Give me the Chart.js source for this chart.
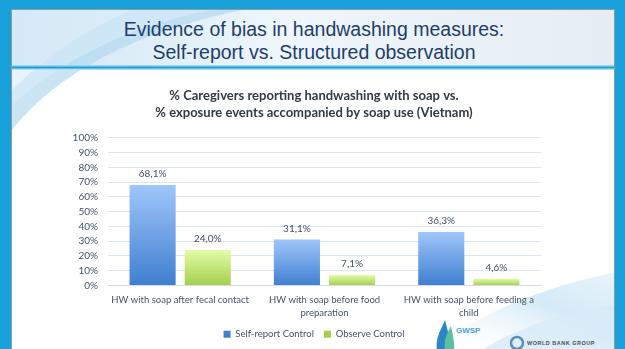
<!DOCTYPE html>
<html>
<head>
<meta charset="utf-8">
<script src="https://cdn.jsdelivr.net/npm/chart.js@4.4.1/dist/chart.umd.min.js"></script>
<style>
  html, body { margin: 0; padding: 0; }
  body { width: 625px; height: 349px; background: #17a0da; position: relative; overflow: hidden; }
  #slide {
    position: absolute; left: 11px; top: 9px; width: 604px; height: 340px;
    background: #fff; border: 1px solid #8c9aa4; border-bottom: none; box-sizing: border-box;
    overflow: hidden;
  }
  #deco { position: absolute; left: 0; top: 0; }
  .heading {
    position: absolute; left: 0; width: 604px; text-align: center;
    font-family: "Liberation Sans", Arial, sans-serif; font-size: 19.5px; color: #1f3d6b;
  }
  #chartBox { position: absolute; left: 0; top: 71px; width: 604px; height: 269px; }
  .logo { position: absolute; font-family: "Liberation Sans", Arial, sans-serif; font-weight: bold; }
</style>
</head>
<body>
<div id="slide">
  <svg id="deco" width="604" height="340">
    <defs>
      <linearGradient id="band" x1="0" y1="0" x2="1" y2="0">
        <stop offset="0" stop-color="#cfe6f5"/>
        <stop offset="0.45" stop-color="#eef6fb"/>
        <stop offset="1" stop-color="#e6eef4"/>
      </linearGradient>
      <linearGradient id="rule" x1="0" y1="0" x2="0" y2="1">
        <stop offset="0" stop-color="#bfe4f6"/>
        <stop offset="0.5" stop-color="#1a9fd8"/>
        <stop offset="1" stop-color="#d3eef9"/>
      </linearGradient>
      <linearGradient id="swoosh" x1="0" y1="1" x2="1" y2="0">
        <stop offset="0" stop-color="#ffffff" stop-opacity="0"/>
        <stop offset="0.6" stop-color="#cfe8f6"/>
        <stop offset="1" stop-color="#e6f3fa"/>
      </linearGradient>
    </defs>
    <!-- header band and swooshes -->
    <rect x="0" y="0" width="604" height="55" fill="url(#band)"/>
    <path d="M0,120 C40,70 110,25 230,0 L120,0 C70,20 25,55 0,80 Z" fill="#b3d9f0" opacity="0.7"/>
    <path d="M0,95 C50,50 120,15 200,0 L0,0 Z" fill="#d9ecf8" opacity="0.6"/>
    <rect x="0" y="55" width="604" height="5" fill="url(#rule)"/>
    <path d="M420,340 C470,300 540,275 604,262 L604,340 Z" fill="url(#swoosh)" opacity="0.9"/>
    <path d="M470,340 C510,315 560,300 604,295 L604,340 Z" fill="#d7ebf7" opacity="0.8"/>
    <!-- logo marks -->
    <path d="M425,340 C423,328 429,320 433,310 C436,322 439,330 437,340 Z" fill="#2a86c6"/>
    <path d="M433,340 C431,330 436,322 439,316 C441,326 443,334 442,340 Z" fill="#5cc0a0"/>
    <circle cx="505" cy="333" r="6" fill="none" stroke="#5b8fb8" stroke-width="2.5"/>
  </svg>
  <div class="heading" style="top: 8px;">Evidence of bias in handwashing measures:</div>
  <div class="heading" style="top: 31px;">Self-report vs. Structured observation</div>
  <div class="logo" style="left: 444px; top: 316px; font-size: 8px; color: #4aa3dc;">GWSP</div>
  <div class="logo" style="left: 515px; top: 330px; font-size: 5.5px; color: #4b4f55; letter-spacing: 0.5px;">WORLD BANK GROUP</div>
  <div id="chartBox"><canvas id="chart"></canvas></div>
</div>

<script>
const categories = [
    ['HW with soap after fecal contact'],
    ['HW with soap before food', 'preparation'],
    ['HW with soap before feeding a', 'child']
];
const seriesNames = ['Self-report Control', 'Observe Control'];
const selfReport = [68.1, 31.1, 36.3];
const observed = [24.0, 7.1, 4.6];
const yTicks = [0, 10, 20, 30, 40, 50, 60, 70, 80, 90, 100];

const textColor = '#44546a';

// each bar gets its own vertical gradient, top to base
function barFill(top, bottom) {
    return (c) => {
        const chart = c.chart;
        const y = chart.scales.y;
        if (c.type !== 'data' || !chart.chartArea || !y) return bottom;
        const g = chart.ctx.createLinearGradient(0, y.getPixelForValue(c.raw), 0, y.getPixelForValue(0));
        g.addColorStop(0, top);
        g.addColorStop(1, bottom);
        return g;
    };
}

function fmt(v) {
    return v.toFixed(1).replace('.', ',') + '%';
}

// value labels above the bars
const valueLabels = {
    id: 'valueLabels',
    afterDatasetsDraw(chart) {
        const ctx = chart.ctx;
        ctx.save();
        ctx.font = '10px Lato';
        ctx.fillStyle = textColor;
        ctx.textAlign = 'center';
        ctx.textBaseline = 'middle';
        chart.data.datasets.forEach((ds, i) => {
            chart.getDatasetMeta(i).data.forEach((bar, j) => {
                ctx.fillText(fmt(ds.data[j]), bar.x, bar.y - 11);
            });
        });
        ctx.restore();
    }
};

const chartCtx = document.getElementById('chart');

new Chart(chartCtx, {
    type: 'bar',
    data: {
        labels: categories,
        datasets: [{
            label: seriesNames[0],
            data: selfReport,
            backgroundColor: barFill('#a0c6fb', '#3f7fcf')
        }, {
            label: seriesNames[1],
            data: observed,
            backgroundColor: barFill('#e4fca8', '#a3cf4a')
        }]
    },
    options: {
        responsive: true,
        maintainAspectRatio: false,
        animation: false,
        categoryPercentage: 0.764,
        barPercentage: 0.836,
        layout: { padding: { left: 0, right: 0, top: 0, bottom: 1 } },
        plugins: {
            title: {
                display: true,
                text: ['% Caregivers reporting handwashing with soap vs.', '% exposure events accompanied by soap use (Vietnam)'],
                font: { family: 'Lato', size: 13, weight: 'bold', lineHeight: 1.3 },
                color: '#333a44',
                padding: { top: 6, bottom: 17 }
            },
            legend: {
                position: 'bottom',
                labels: {
                    font: { family: 'Lato', size: 9.5 },
                    color: textColor,
                    boxWidth: 7,
                    boxHeight: 7,
                    padding: 10
                }
            },
            tooltip: { enabled: false }
        },
        scales: {
            x: {
                grid: { display: false, drawTicks: false },
                border: { color: '#d3dcea' },
                ticks: {
                    color: textColor,
                    font: { family: 'Lato', size: 9.5, lineHeight: 1.35 },
                    padding: 8,
                    maxRotation: 0,
                    autoSkip: false
                },
                afterFit: (scale) => { scale.height = 34; }
            },
            y: {
                min: 0,
                max: 100,
                afterBuildTicks: (scale) => { scale.ticks = yTicks.map(v => ({ value: v })); },
                grid: { color: '#dde5f1', drawTicks: false },
                border: { display: false },
                ticks: {
                    color: textColor,
                    font: { family: 'Lato', size: 10 },
                    padding: 10,
                    autoSkip: false,
                    callback: v => v + '%'
                },
                afterFit: (scale) => { scale.width = 96; }
            },
            // empty strip on the right of the plot
            gutter: {
                position: 'right',
                grid: { display: false, drawTicks: false },
                border: { display: false },
                ticks: { display: false },
                afterFit: (scale) => { scale.width = 75; }
            }
        }
    },
    plugins: [valueLabels]
});
</script>
</body>
</html>
